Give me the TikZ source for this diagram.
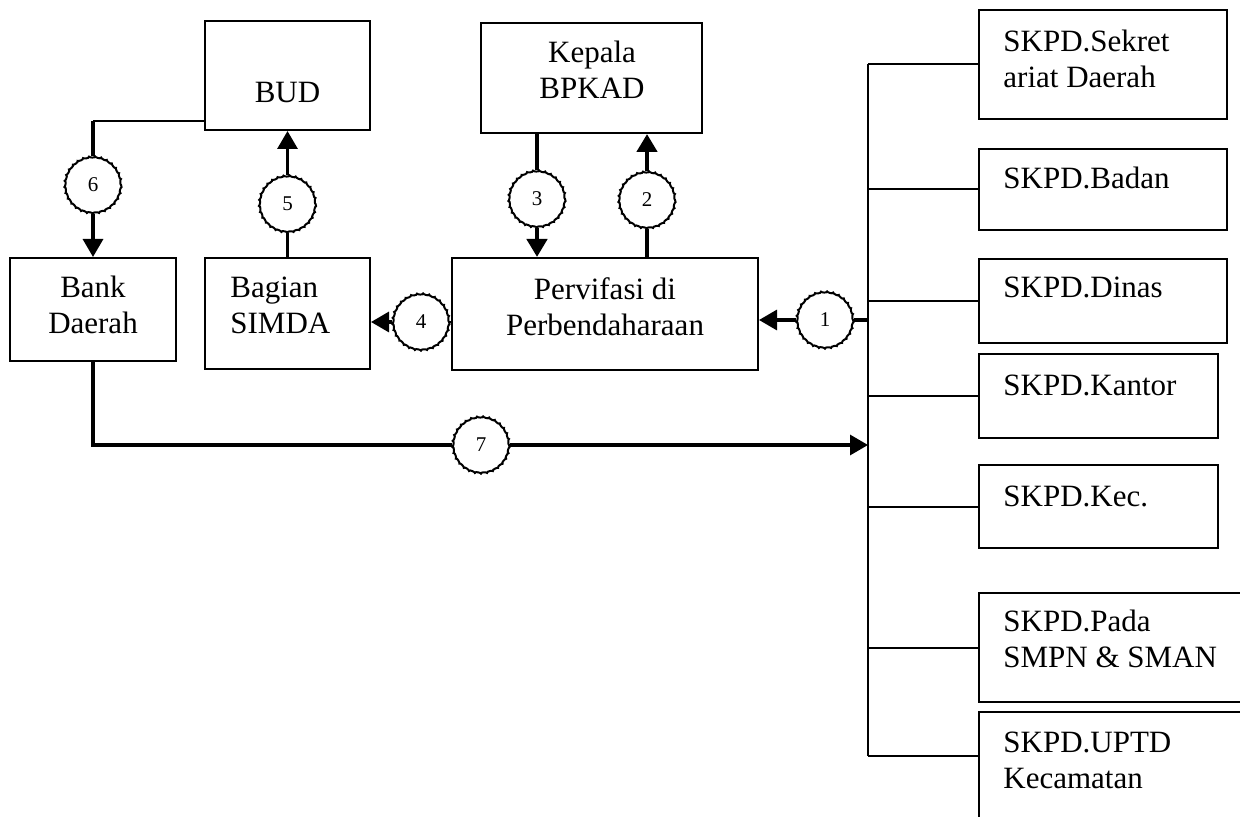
\documentclass[tikz,border=0pt]{standalone}
\usepackage{fontspec}
\setmainfont{Liberation Serif}
\usepackage{tikz}
\usetikzlibrary{positioning, arrows.meta, calc, decorations.pathmorphing}
\tikzset{
  unitbox/.style={draw, line width=1pt, inner sep=0pt},
  boxtext/.style={inner sep=0pt, align=center, anchor=north, font=\fontsize{15.5pt}{18pt}\selectfont},
  skpdtext/.style={boxtext, align=left, anchor=north west},
}
\tikzset{
  stepcirc/.style={draw, circle, line width=1pt, minimum size=28pt, inner sep=0pt,
    font=\fontsize{10.5pt}{12pt}\selectfont, decorate, decoration={bumps, segment length=6pt, amplitude=0.35pt}},
  flowline/.style={line width=1.6pt},
  heavyline/.style={line width=2.2pt},
  flowarrow/.style={flowline, -{Triangle[length=9pt, width=10pt]}},
  treeline/.style={line width=1pt},
}

\begin{document}
\begin{tikzpicture}[x=0.5pt, y=-0.5pt]
  \useasboundingbox (0,0) rectangle (1240,817);
  % left and middle boxes
  \node[unitbox, minimum width=82.5pt, minimum height=54.5pt] (bud) at (287.5,75.5) {};
  \node[unitbox, minimum width=110.5pt, minimum height=55pt] (kepala) at (591.5,78) {};
  \node[unitbox, minimum width=83pt, minimum height=51.5pt] (bank) at (93,309.5) {};
  \node[unitbox, minimum width=82.5pt, minimum height=55.5pt] (simda) at (287.5,313.5) {};
  \node[unitbox, minimum width=153pt, minimum height=56pt] (verif) at (605,314) {};
  \node[boxtext] (budtext) at (287.5,77) {\strut BUD};
  \node[boxtext] (kepalatext) at (592,37) {\strut Kepala\\BPKAD};
  \node[boxtext] (banktext) at (93,272) {\strut Bank\\Daerah};
  \node[skpdtext] (simdatext) at (230,272) {\strut Bagian\\SIMDA};
  \node[boxtext] (veriftext) at (605,274) {\strut Pervifasi di\\Perbendaharaan};
  % SKPD column
  \node[unitbox, minimum width=124pt, minimum height=54.5pt] (sekr) at (1103,64.5) {};
  \node[unitbox, minimum width=124pt, minimum height=40.5pt] (badan) at (1103,189.5) {};
  \node[unitbox, minimum width=124pt, minimum height=42pt] (dinas) at (1103,301) {};
  \node[unitbox, minimum width=119.5pt, minimum height=42pt] (kantor) at (1098.5,396) {};
  \node[unitbox, minimum width=119.5pt, minimum height=41.5pt] (kec) at (1098.5,506.5) {};
  \node[unitbox, minimum width=135.5pt, minimum height=54.5pt] (pada) at (1114.5,647.5) {};
  \node[unitbox, minimum width=135.5pt, minimum height=64pt] (uptd) at (1114.5,776) {};
  \node[skpdtext] (sekrtext) at (1003,26) {\strut SKPD.Sekret\\ariat Daerah};
  \node[skpdtext] (badantext) at (1003,163) {\strut SKPD.Badan};
  \node[skpdtext] (dinastext) at (1003,272) {\strut SKPD.Dinas};
  \node[skpdtext] (kantortext) at (1003,370) {\strut SKPD.Kantor};
  \node[skpdtext] (kectext) at (1003,481) {\strut SKPD.Kec.};
  \node[skpdtext] (padatext) at (1003,606) {\strut SKPD.Pada\\SMPN \& SMAN};
  \node[skpdtext] (uptdtext) at (1003,727) {\strut SKPD.UPTD\\Kecamatan};
  % numbered steps
  \node[stepcirc] (c1) at (825,320) {1};
  \node[stepcirc] (c2) at (647,200) {2};
  \node[stepcirc] (c3) at (537,199) {3};
  \node[stepcirc] (c4) at (421,322) {4};
  \node[stepcirc] (c5) at (287.5,204) {5};
  \node[stepcirc] (c6) at (93,185) {6};
  \node[stepcirc] (c7) at (481,445) {7};
  % tree to the SKPD boxes
  \coordinate (spine) at (868,0);
  \coordinate (uptdjoin) at ([yshift=-22.5pt]uptd.north west);
  \coordinate (budcorner) at ([yshift=5pt]bud.south west);
  \draw[treeline] (sekr.west -| spine) -- (uptdjoin -| spine);
  \foreach \b in {sekr,badan,dinas,kantor,kec,pada}
    \draw[treeline] (\b.west) -- (\b.west -| spine);
  \draw[treeline] (uptdjoin) -- (uptdjoin -| spine);
  % flow
  \draw[flowline] (c1.east) -- (c1.east -| spine);
  \draw[flowarrow] (c1.west) -- (c1.west -| verif.east);
  \draw[heavyline] (c2.south |- verif.north) -- (c2.south);
  \draw[flowarrow, heavyline] (c2.north) -- (c2.north |- kepala.south);
  \draw[heavyline] (c3.north |- kepala.south) -- (c3.north);
  \draw[flowarrow, heavyline] (c3.south) -- (c3.south |- verif.north);
  \draw[treeline] (c4.east -| verif.west) -- (c4.east);
  \draw[flowarrow] (c4.west) -- (c4.west -| simda.east);
  \draw[flowline] (simda.north) -- (c5.south);
  \draw[flowarrow] (c5.north) -- (bud.south);
  \draw[treeline] (budcorner) -- (budcorner -| c6.north);
  \draw[flowline] (budcorner -| c6.north) -- (c6.north);
  \draw[flowarrow] (c6.south) -- (bank.north);
  \draw[flowline] (bank.south) |- (c7.west);
  \draw[flowarrow] (c7.east) -- (c7.east -| spine);
\end{tikzpicture}
\end{document}
